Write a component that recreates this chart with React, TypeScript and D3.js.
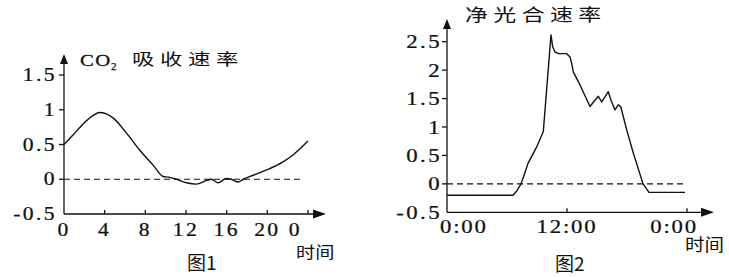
import React from "react";
import * as d3 from "d3";

// Figure 1: CO2 absorption rate over the day
const hours1 = [0, 0.91, 1.9, 2.88, 3.52, 4.85, 6.17, 7.44, 8.78, 9.76, 10.28, 11.06, 12.04, 13.02, 14.0, 14.49, 15.17, 15.96, 16.45, 17.13, 17.62, 18.3, 19.87, 21.54, 22.52, 24];
const values1 = [0.5, 0.64, 0.8, 0.92, 0.96, 0.88, 0.66, 0.42, 0.2, 0.04, 0.03, 0.0, -0.05, -0.07, -0.02, 0.0, -0.05, 0.01, 0.0, -0.04, 0.0, 0.04, 0.13, 0.25, 0.35, 0.55];
const yTicks1 = [-0.5, 0, 0.5, 1, 1.5];
const yTickLabels1 = ["-0.5", "0", "0.5", "1", "1.5"];
const xTicks1 = [0, 4, 8, 12, 16, 20, 24];
const xTickLabels1 = ["0", "4", "8", "12", "16", "20", "0"];

// Figure 2: net photosynthetic rate over the day
const hours2 = [0, 6.6, 7.0, 7.4, 7.8, 8.1, 8.97, 9.63, 10.4, 10.57, 10.8, 11.13, 11.97, 12.3, 12.47, 12.63, 13.3, 14.3, 14.8, 15.13, 15.47, 15.8, 16.13, 16.4, 16.8, 17.13, 17.37, 17.97, 18.6, 19.6, 20.2, 23.8];
const values2 = [-0.2, -0.2, -0.12, 0, 0.2, 0.36, 0.65, 0.92, 2.62, 2.41, 2.32, 2.29, 2.29, 2.23, 2.12, 1.97, 1.74, 1.36, 1.47, 1.54, 1.44, 1.53, 1.62, 1.47, 1.3, 1.39, 1.36, 0.95, 0.56, 0, -0.15, -0.15];
const yTicks2 = [-0.5, 0, 0.5, 1, 1.5, 2, 2.5];
const yTickLabels2 = ["-0.5", "0", "0.5", "1", "1.5", "2", "2.5"];
const xTicks2 = [0, 12, 24];
const xTickLabels2 = ["0:00", "12:00", "0:00"];

const SERIF = "'Liberation Serif', 'DejaVu Serif', serif";
const CJK = "'Noto Sans CJK SC', sans-serif";
const INK = "#111";

function T({ x, y, sx = 1, anchor = "start", size, family = SERIF, ls = 0, children, weight = 400 }: any) {
  return (
    <text
      transform={`translate(${x},${y}) scale(${sx},1)`}
      textAnchor={anchor}
      fontSize={size}
      fontFamily={family}
      letterSpacing={ls}
      fontWeight={weight}
      fill={INK}
      stroke={family === SERIF ? INK : "none"}
      strokeWidth={family === SERIF ? 0.25 : 0}
    >
      {children}
    </text>
  );
}

export default function App() {
  const x1 = d3.scaleLinear().domain([0, 24]).range([64, 308]);
  const y1 = d3.scaleLinear().domain([-0.5, 1.5]).range([214, 75]);
  const x2 = d3.scaleLinear().domain([0, 24]).range([447, 687]);
  const y2 = d3.scaleLinear().domain([-0.5, 2.5]).range([212.3, 41.7]);

  const data1 = hours1.map((h, i) => [h, values1[i]] as [number, number]);
  const data2 = hours2.map((h, i) => [h, values2[i]] as [number, number]);

  const line1 = d3
    .line<[number, number]>()
    .x((d) => x1(d[0]))
    .y((d) => y1(d[1]))
    .curve(d3.curveMonotoneX);
  const line2 = d3
    .line<[number, number]>()
    .x((d) => x2(d[0]))
    .y((d) => y2(d[1]))
    .curve(d3.curveLinear);

  const ax1x = x1(0);
  const ax1y = y1(-0.5);
  const ax2x = x2(0);
  const ax2y = y2(-0.5);
  const last1 = xTicks1.length - 1;
  const last2 = xTicks2.length - 1;

  return (
    <svg
      width={729}
      height={277}
      viewBox="0 0 729 277"
      style={{ position: "absolute", left: 0, top: 0, background: "#fff" }}
    >
      <rect width={729} height={277} fill="#fff" />

      {/* ---------- Figure 1 ---------- */}
      <g stroke={INK} strokeWidth={1.3} fill="none">
        <line x1={ax1x} y1={ax1y} x2={ax1x} y2={58} />
        <line x1={ax1x} y1={ax1y} x2={318} y2={ax1y} />
        <line x1={x1(0)} y1={y1(0)} x2={303} y2={y1(0)} strokeDasharray="6,4" strokeWidth={1.1} />
        {yTicks1.slice(1).map((v) => (
          <line key={v} x1={ax1x - 5} x2={ax1x} y1={y1(v)} y2={y1(v)} />
        ))}
        {xTicks1.slice(1).map((h) => (
          <line key={h} x1={x1(h)} x2={x1(h)} y1={ax1y} y2={ax1y - 4} />
        ))}
        <path d={line1(data1) || ""} strokeWidth={1.4} />
      </g>
      <path d={`M${ax1x},54 L${ax1x - 4},64 L${ax1x + 4},64 Z`} fill={INK} />
      <path d={`M326,${ax1y} L313,${ax1y - 4.5} L313,${ax1y + 4.5} Z`} fill={INK} />

      {yTicks1.map((v, i) => (
        <T key={v} x={ax1x - 7} y={y1(v) + 6} anchor="end" size={18} sx={1.2} ls={2}>
          {yTickLabels1[i]}
        </T>
      ))}
      {xTicks1.map((h, i) => (
        <T
          key={i}
          x={i === last1 ? x1(h) - 6 : x1(h)}
          y={236}
          anchor={i === last1 ? "end" : "middle"}
          size={18}
          sx={1.2}
          ls={2}
        >
          {xTickLabels1[i]}
        </T>
      ))}
      <T x={80} y={66} size={16} sx={1.3} ls={1}>CO</T>
      <T x={111} y={70} size={11}>2</T>
      <T x={132} y={65} size={16} sx={1.4} ls={4} family={CJK}>吸收速率</T>
      <T x={296} y={258} size={16} sx={1.2} family={CJK}>时间</T>
      <T x={187} y={270} size={19} family={CJK}>图1</T>

      {/* ---------- Figure 2 ---------- */}
      <g stroke={INK} strokeWidth={1.3} fill="none">
        <line x1={ax2x} y1={ax2y} x2={ax2x} y2={24} />
        <line x1={ax2x} y1={ax2y} x2={704} y2={ax2y} />
        <line x1={x2(0)} y1={y2(0)} x2={683} y2={y2(0)} strokeDasharray="6,4" strokeWidth={1.1} />
        {yTicks2.slice(1).map((v) => (
          <line key={v} x1={ax2x - 5} x2={ax2x} y1={y2(v)} y2={y2(v)} />
        ))}
        {xTicks2.slice(1).map((h) => (
          <line key={h} x1={x2(h)} x2={x2(h)} y1={ax2y} y2={ax2y - 4} />
        ))}
        <path d={line2(data2) || ""} strokeWidth={1.4} strokeLinejoin="round" />
      </g>
      <path d={`M${ax2x},19 L${ax2x - 4},29 L${ax2x + 4},29 Z`} fill={INK} />
      <path d={`M714,${ax2y} L701,${ax2y - 4.5} L701,${ax2y + 4.5} Z`} fill={INK} />

      {yTicks2.map((v, i) => (
        <T key={v} x={ax2x - 5} y={y2(v) + 6.5} anchor="end" size={19} sx={1.2} ls={2}>
          {yTickLabels2[i]}
        </T>
      ))}
      {xTicks2.map((h, i) => (
        <T
          key={i}
          x={i === 0 ? x2(h) - 7 : i === last2 ? x2(h) + 11 : x2(h)}
          y={233}
          anchor={i === 0 ? "start" : i === last2 ? "end" : "middle"}
          size={19}
          sx={1.2}
          ls={1.5}
        >
          {xTickLabels2[i]}
        </T>
      ))}
      <T x={465} y={21} size={17} sx={1.35} ls={4} family={CJK}>净光合速率</T>
      <T x={685} y={251} size={17} sx={1.15} family={CJK}>时间</T>
      <T x={555} y={271} size={19} family={CJK}>图2</T>
    </svg>
  );
}
